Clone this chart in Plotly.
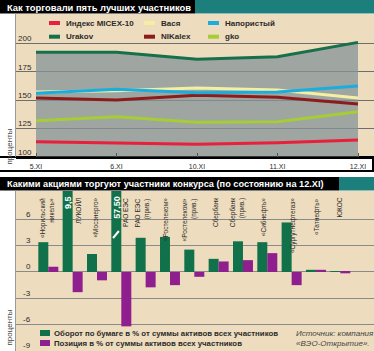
import plotly.graph_objects as go

W, H = 374, 351

# ---------------- data: top chart ----------------
dates = ["5.XI", "6.XI", "10.XI", "11.XI", "12.XI"]
micex = [113.1, 112.2, 110.8, 112.2, 114.6]
vasya = [157.1, 158.2, 160.6, 158.8, 151.8]
naporisty = [155.9, 159.5, 156.5, 157.1, 162.4]
urakov = [192.2, 192.2, 186.0, 188.3, 201.0]
nikalex = [151.8, 150.0, 154.2, 152.4, 146.5]
gko = [131.7, 135.2, 130.3, 130.8, 139.6]
top_ticks = [100, 125, 150, 175, 200]

# ---------------- data: bottom chart ----------------
stocks = ["Норильский никель", "ЛУКОЙЛ", "Мосэнерго", "РАО ЕЭС", "РАО ЕЭС (прив.)",
          "Ростелеком", "Ростелеком (прив.)", "Сбербанк", "Сбербанк (прив.)",
          "Сибнефть", "Сургутнефтегаз", "Татнефть", "ЮКОС"]
stock_labels = ["«Норильский<br>никель»", "ЛУКОЙЛ", "«Мосэнерго»", "РАО ЕЭС",
                "РАО ЕЭС<br>(прив.)", "«Ростелеком»", "«Ростелеком»<br>(прив.)",
                "Сбербанк", "Сбербанк<br>(прив.)", "«Сибнефть»", "«Сургутнефтегаз»",
                "«Татнефть»", "ЮКОС"]
turnover = [3.4, 9.5, 2.05, 57.5, 3.9, 4.0, 2.55, 1.5, 3.5, 3.4, 5.65, 0.25, 0.1]
position = [0.6, -2.3, -0.95, -6.2, -1.75, -1.5, -0.55, 1.2, 1.35, 2.15, -1.5, 0.25, -0.15]
bottom_ticks = [-9, -6, -3, 0, 3, 6]
big_values = {1: "9,5", 3: "57,50"}

# ---------------- styles ----------------
TEAL = "#1c7f7b"
BEIGE = "#eddcbd"
TXT = "#2b2b2b"
SANS = "Liberation Sans, Arial"
label_dx = [-0.09, 0.21, -0.06, 0.17, -0.15, -0.18, -0.22, -0.13, -0.26, -0.13, 0.04, 0.02, -0.07]


def px(x):
    return x / W


def py(y):
    return 1 - y / H


fig = go.Figure()

series = [
    ("Urakov", urakov, "#17704a"),
    ("gko", gko, "#a6cc36"),
    ("Индекс MICEX-10", micex, "#e8203c"),
    ("NIKalex", nikalex, "#8c1c1c"),
    ("Вася", vasya, "#f4efa2"),
    ("Напористый", naporisty, "#1aaede"),
]
for name, vals, col in series:
    kw = {}
    if name == "Urakov":
        kw = dict(fill="tozeroy", fillcolor="rgba(134,147,153,0.76)")
    fig.add_trace(go.Scatter(x=dates, y=vals, name=name, mode="lines",
                             line=dict(color=col, width=3), showlegend=False,
                             xaxis="x", yaxis="y", **kw))

fig.add_trace(go.Bar(x=stocks, y=turnover, name="Оборот", marker_color="#11714a",
                     marker_line_width=0, showlegend=False, xaxis="x2", yaxis="y2"))
fig.add_trace(go.Bar(x=stocks, y=position, name="Позиция", marker_color="#8f1f8f",
                     marker_line_width=0, showlegend=False, xaxis="x2", yaxis="y2"))

shapes = []
ann = []

# title bars
shapes += [
    dict(type="rect", xref="paper", yref="paper", x0=0, x1=px(195), y0=py(13.5), y1=1,
         fillcolor="black", line_width=0, layer="below"),
    dict(type="rect", xref="paper", yref="paper", x0=px(195), x1=1, y0=py(13.5), y1=1,
         fillcolor=TEAL, line_width=0, layer="below"),
    dict(type="rect", xref="paper", yref="paper", x0=0, x1=px(339), y0=py(190.5), y1=py(177),
         fillcolor="black", line_width=0, layer="below"),
    dict(type="rect", xref="paper", yref="paper", x0=px(339), x1=1, y0=py(190.5), y1=py(177),
         fillcolor=TEAL, line_width=0, layer="below"),
]
ann += [
    dict(text="Как торговали пять лучших участников", x=px(5), y=py(7), xref="paper", yref="paper",
         xanchor="left", yanchor="middle", showarrow=False,
         font=dict(family=SANS, size=9.4, color="white", weight="bold")),
    dict(text="Какими акциями торгуют участники конкурса (по состоянию на 12.XI)", x=px(5), y=py(184),
         xref="paper", yref="paper", xanchor="left", yanchor="middle", showarrow=False,
         font=dict(family=SANS, size=9.2, color="white", weight="bold")),
]

# x label strip of top chart
shapes += [
    dict(type="rect", xref="paper", yref="paper", x0=px(-2), x1=px(373), y0=py(171), y1=py(157),
         fillcolor="white", line=dict(color="black", width=2), layer="below"),
    dict(type="line", xref="paper", yref="paper", x0=px(15.5), x1=px(15.5), y0=py(157), y1=py(13.5),
         line=dict(color="#9a9a9a", width=1)),
    dict(type="line", xref="paper", yref="paper", x0=px(15.5), x1=px(15.5), y0=0, y1=py(190.5),
         line=dict(color="#9a9a9a", width=1)),
]

# y tick labels, placed on the axis scales, sitting just above each grid line
for t in top_ticks:
    ann.append(dict(text=str(t), x=px(34), y=t, xref="paper", yref="y", xanchor="right",
                    yanchor="middle", yshift=4.5, showarrow=False,
                    font=dict(family=SANS, size=8, color=TXT)))
for t in bottom_ticks:
    ann.append(dict(text=str(t), x=px(33), y=t, xref="paper", yref="y2", xanchor="right",
                    yanchor="middle", yshift=5, showarrow=False,
                    font=dict(family=SANS, size=8, color=TXT)))

# "проценты" labels
for yc in (146.5, 327.5):
    ann.append(dict(text="проценты", x=px(9), y=py(yc), xref="paper", yref="paper", textangle=-90,
                    xanchor="center", yanchor="middle", showarrow=False,
                    font=dict(family=SANS, size=8, color="#444")))

# top legend (manual)
leg_items = [("Индекс MICEX-10", "#e8203c", 49, 23), ("Вася", "#f4efa2", 144, 23),
             ("Напористый", "#1aaede", 208, 23), ("Urakov", "#17704a", 49, 36.7),
             ("NIKalex", "#8c1c1c", 144, 36.7), ("gko", "#a6cc36", 208, 36.7)]
for name, col, lx, ly in leg_items:
    shapes.append(dict(type="line", xref="paper", yref="paper", x0=px(lx), x1=px(lx + 11),
                       y0=py(ly), y1=py(ly), line=dict(color=col, width=4)))
    ann.append(dict(text=name, x=px(lx + 15), y=py(ly), xref="paper", yref="paper",
                    xanchor="left", yanchor="middle", showarrow=False,
                    font=dict(family=SANS, size=8, color=TXT, weight="bold")))

# bottom legend (manual)
for name, col, ly in [("Оборот по бумаге в % от суммы активов всех участников", "#11714a", 333),
                      ("Позиция в % от суммы активов всех участников", "#8f1f8f", 343)]:
    shapes.append(dict(type="rect", xref="paper", yref="paper", x0=px(40), x1=px(50),
                       y0=py(ly + 3), y1=py(ly - 3), fillcolor=col, line_width=0))
    ann.append(dict(text=name, x=px(52), y=py(ly), xref="paper", yref="paper",
                    xanchor="left", yanchor="middle", showarrow=False,
                    font=dict(family=SANS, size=7.8, color=TXT, weight="bold")))
ann.append(dict(text="Источник: компания<br>«ВЭО-Открытие».", x=px(294), y=py(338), xref="paper",
                yref="paper", xanchor="left", yanchor="middle", align="left", showarrow=False,
                font=dict(family=SANS, size=8, color="#444", style="italic")))

# stock labels (rotated)
for i, lab in enumerate(stock_labels):
    ann.append(dict(text=lab, x=i + label_dx[i], y=py(196), xref="x2", yref="paper",
                    textangle=-90, xanchor="center", yanchor="top", align="right",
                    showarrow=False, font=dict(family=SANS, size=6.5, color=TXT)))
# values of clipped bars
for i, txt in big_values.items():
    ann.append(dict(text=txt, x=i - 0.21, y=py(194), xref="x2", yref="paper",
                    textangle=-90, xanchor="center", yanchor="top", showarrow=False,
                    font=dict(family=SANS, size=9, color="white", weight="bold")))
# break mark on the clipped bar
shapes.append(dict(type="line", xref="x2", yref="paper", x0=3 - 0.34, x1=3 - 0.1,
                   y0=py(238), y1=py(231), line=dict(color="white", width=2)))

fig.update_layout(
    width=W, height=H, autosize=False,
    margin=dict(l=0, r=0, t=0, b=0),
    paper_bgcolor="white", plot_bgcolor=BEIGE,
    barmode="group", bargap=0.178, bargroupgap=0,
    shapes=shapes, annotations=ann,
    xaxis=dict(domain=[px(16), 1], anchor="y", range=[-0.2484, 4.1988], showgrid=False,
               zeroline=False, showline=True, linecolor="black", linewidth=2,
               ticks="inside", ticklen=4, tickcolor="#555", ticklabelstandoff=2,
               tickfont=dict(family=SANS, size=7, color=TXT)),
    yaxis=dict(domain=[py(156.5), py(14)], anchor="x", range=[100, 226.1],
               tickvals=top_ticks, showgrid=True, gridcolor="#6e6e6e", gridwidth=1,
               zeroline=False, ticks="", showticklabels=False),
    xaxis2=dict(domain=[px(16), 1], anchor="y2", range=[-1.328, 13.385], showgrid=False,
                zeroline=False, showticklabels=False, ticks=""),
    yaxis2=dict(domain=[0, py(191)], anchor="x2", range=[-9.01, 9.236],
                tickvals=bottom_ticks, showgrid=True, gridcolor="#8a8a8a", gridwidth=1,
                zeroline=False, ticks="", showticklabels=False),
)

fig.write_html("out.html")
